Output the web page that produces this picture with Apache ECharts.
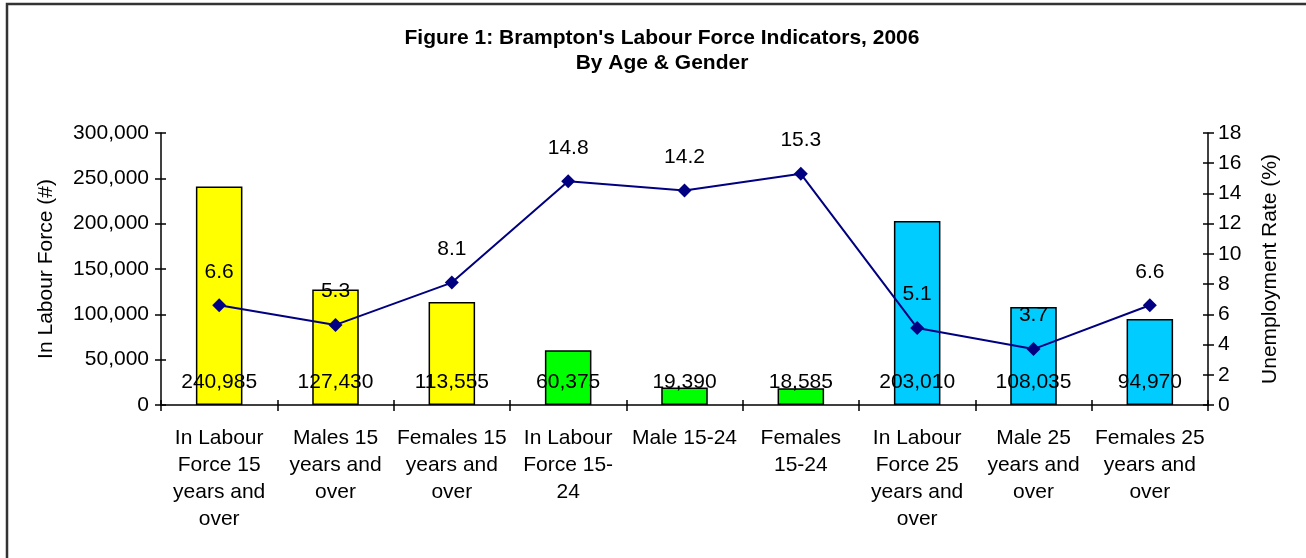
<!DOCTYPE html>
<html>
<head>
<meta charset="utf-8">
<script src="https://cdn.jsdelivr.net/npm/echarts@6/dist/echarts.min.js"></script>
<style>
html,body{margin:0;padding:0;background:#fff;}
#chart{width:1306px;height:558px;}
</style>
</head>
<body>
<div id="chart"></div>
<script>
var categories = [
  "In Labour\nForce 15\nyears and\nover",
  "Males 15\nyears and\nover",
  "Females 15\nyears and\nover",
  "In Labour\nForce 15-\n24",
  "Male 15-24",
  "Females\n15-24",
  "In Labour\nForce 25\nyears and\nover",
  "Male 25\nyears and\nover",
  "Females 25\nyears and\nover"
];
var labourForce = [240985, 127430, 113555, 60375, 19390, 18585, 203010, 108035, 94970];
var unemploymentRate = [6.6, 5.3, 8.1, 14.8, 14.2, 15.3, 5.1, 3.7, 6.6];
var barColors = ["#FFFF00", "#FFFF00", "#FFFF00", "#00FF00", "#00FF00", "#00FF00", "#00CCFF", "#00CCFF", "#00CCFF"];
var leftTicks = [0, 50000, 100000, 150000, 200000, 250000, 300000];
var rightTicks = [0, 2, 4, 6, 8, 10, 12, 14, 16, 18];

var FONT = "Liberation Sans, Arial, sans-serif";
var chart = echarts.init(document.getElementById('chart'), null, {renderer: 'canvas'});

function fmt(v) { return v.toLocaleString('en-US'); }

var axisLineStyle = {color: '#000', width: 1.5};

var option = {
  backgroundColor: '#fff',
  animation: false,
  title: {
    text: "Figure 1: Brampton's Labour Force Indicators, 2006\nBy Age & Gender",
    left: 657,
    top: 21,
    textAlign: 'center',
    textStyle: {fontFamily: FONT, fontWeight: 'bold', fontSize: 21, lineHeight: 25, color: '#000'}
  },
  graphic: [{
    type: 'rect',
    shape: {x: 7, y: 4, width: 1400, height: 600},
    style: {fill: 'none', stroke: '#333', lineWidth: 2.5},
    silent: true
  }],
  grid: {left: 161, right: 98, top: 133, bottom: 153, containLabel: false},
  xAxis: [{
    type: 'category',
    data: categories,
    position: 'bottom',
    axisLine: {lineStyle: axisLineStyle},
    axisTick: {show: true, inside: false, length: 6, lineStyle: {color: '#000', width: 1.5}},
    axisLabel: {interval: 0, margin: 20, fontFamily: FONT, fontSize: 21, lineHeight: 27, color: '#000', align: 'center'}
  }, {
    type: 'category',
    data: categories,
    position: 'bottom',
    axisLine: {show: false},
    axisTick: {show: true, inside: true, length: 5, lineStyle: {color: '#000', width: 1.5}},
    axisLabel: {show: false}
  }],
  yAxis: [{
    type: 'value',
    position: 'left',
    min: 0, max: 300000, interval: 50000,
    name: 'In Labour Force (#)',
    nameLocation: 'middle',
    nameGap: 104,
    nameTextStyle: {fontFamily: FONT, fontSize: 21, color: '#000'},
    axisLine: {show: true, lineStyle: axisLineStyle},
    axisTick: {show: true, inside: false, length: 6, lineStyle: {color: '#000', width: 1.5}},
    splitLine: {show: false},
    axisLabel: {margin: 12, fontFamily: FONT, fontSize: 21, color: '#000', formatter: function (v) { return fmt(v); }}
  }, {
    type: 'value',
    position: 'right',
    min: 0, max: 18, interval: 2,
    name: 'Unemployment Rate (%)',
    nameLocation: 'middle',
    nameGap: 52,
    nameRotate: 90,
    nameTextStyle: {fontFamily: FONT, fontSize: 21, color: '#000'},
    axisLine: {show: true, lineStyle: axisLineStyle},
    axisTick: {show: true, inside: false, length: 6, lineStyle: {color: '#000', width: 1.5}},
    splitLine: {show: false},
    axisLabel: {margin: 10, fontFamily: FONT, fontSize: 21, color: '#000'}
  }, {
    type: 'value',
    position: 'left',
    min: 0, max: 300000, interval: 50000,
    axisLine: {show: false},
    axisTick: {show: true, inside: true, length: 5, lineStyle: {color: '#000', width: 1.5}},
    splitLine: {show: false},
    axisLabel: {show: false}
  }, {
    type: 'value',
    position: 'right',
    min: 0, max: 18, interval: 2,
    axisLine: {show: false},
    axisTick: {show: true, inside: true, length: 5, lineStyle: {color: '#000', width: 1.5}},
    splitLine: {show: false},
    axisLabel: {show: false}
  }],
  series: [{
    name: 'In Labour Force',
    type: 'bar',
    xAxisIndex: 0,
    yAxisIndex: 0,
    barWidth: '40%',
    data: labourForce.map(function (v, i) {
      return {value: v, itemStyle: {color: barColors[i], borderColor: '#000', borderWidth: 1.5}};
    }),
    label: {
      show: true,
      position: 'insideBottom',
      distance: 12,
      fontFamily: FONT,
      fontSize: 21,
      color: '#000',
      formatter: function (p) { return fmt(p.value); }
    },
    z: 2
  }, {
    name: 'Unemployment Rate',
    type: 'line',
    xAxisIndex: 0,
    yAxisIndex: 1,
    data: unemploymentRate,
    symbol: 'diamond',
    symbolSize: 14,
    lineStyle: {color: '#000080', width: 2},
    itemStyle: {color: '#000080'},
    label: {
      show: true,
      position: 'top',
      distance: 16,
      fontFamily: FONT,
      fontSize: 21,
      color: '#000',
      formatter: function (p) { return p.value.toFixed(1); }
    },
    z: 3
  }]
};
chart.setOption(option);
</script>
</body>
</html>
